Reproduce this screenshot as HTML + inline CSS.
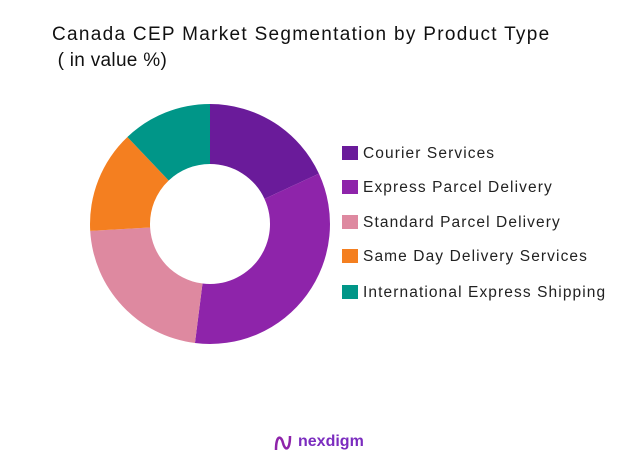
<!DOCTYPE html>
<html><head><style>
body{margin:0;width:642px;height:468px;background:#fff;font-family:"Liberation Sans",sans-serif;overflow:hidden;position:relative}
.t{position:absolute;left:52px;color:#111;font-size:19px;letter-spacing:1.3px}
.l{position:absolute;left:342px;font-size:15.5px;color:#222;letter-spacing:1.1px;white-space:nowrap}
.l span{display:inline-block;width:16px;height:14px;vertical-align:-2px;margin-right:5px}
</style></head><body>
<div class="t" style="top:24px">Canada CEP Market Segmentation by Product Type</div>
<div class="t" style="top:50px;letter-spacing:0.3px">&nbsp;( in value %)</div>
<svg width="642" height="468" style="position:absolute;left:0;top:0">
<g id="d"></g>
</svg>
<script>
var cx=210,cy=224,R=120,r=60,a=[0,65.2,187.2,266.7,316.5,360],c=["#6a1b9a","#8e24aa","#de89a0","#f47f20","#009688"],s="";
function p(ang,rad){var t=(ang-90)*Math.PI/180;return (cx+rad*Math.cos(t)).toFixed(2)+","+(cy+rad*Math.sin(t)).toFixed(2);}
for(var i=0;i<5;i++){var l=(a[i+1]-a[i])>180?1:0;s+='<path fill="'+c[i]+'" d="M'+p(a[i],R)+' A'+R+','+R+' 0 '+l+' 1 '+p(a[i+1],R)+' L'+p(a[i+1],r)+' A'+r+','+r+' 0 '+l+' 0 '+p(a[i],r)+'Z"/>';}
document.getElementById("d").innerHTML=s;
</script>
<div class="l" style="top:145px"><span style="background:#6a1b9a"></span>Courier Services</div>
<div class="l" style="top:179px"><span style="background:#8e24aa"></span>Express Parcel Delivery</div>
<div class="l" style="top:214px"><span style="background:#de89a0"></span>Standard Parcel Delivery</div>
<div class="l" style="top:248px"><span style="background:#f47f20"></span>Same Day Delivery Services</div>
<div class="l" style="top:284px"><span style="background:#009688"></span>International Express Shipping</div>
<svg width="20" height="20" style="position:absolute;left:273px;top:433px"><path d="M3,17 C3,2 8,2 10,10 C12,18 17,18 17,3" stroke="#8e24aa" stroke-width="2.5" fill="none"/></svg>
<div style="position:absolute;left:298px;top:433px;font-size:16px;font-weight:bold;color:#7b2cbf">nexdigm</div>
</body></html>
